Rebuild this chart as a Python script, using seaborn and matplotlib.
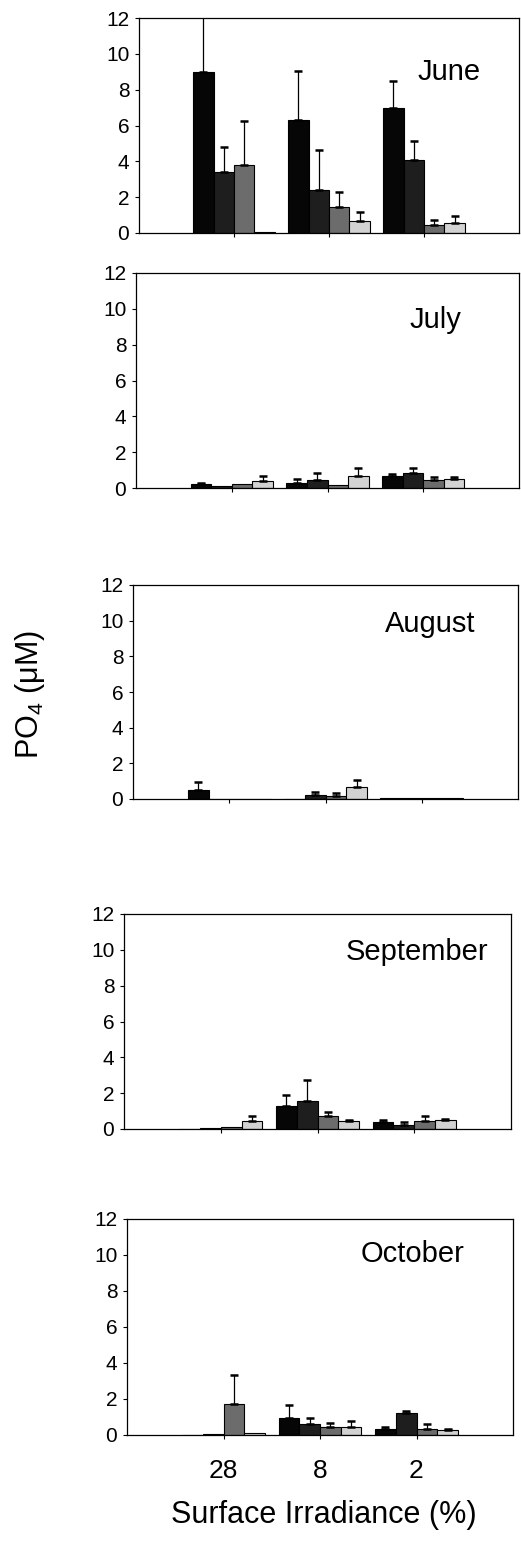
import numpy as np
import pandas as pd
import matplotlib
matplotlib.use("Agg")
import matplotlib.pyplot as plt
import seaborn as sns

# ---------------- data ----------------
irradiance = ["28", "8", "2"]
series = ["S1", "S2", "S3", "S4"]
months = ["June", "July", "August", "September", "October"]

# values per series (black, dark, gray, light), each over irradiance 28, 8, 2
june_vals = [[9.0, 6.3, 7.0], [3.4, 2.4, 4.05], [3.8, 1.47, 0.47], [0.05, 0.67, 0.54]]
june_err = [[4.5, 2.72, 1.48], [1.42, 2.23, 1.07], [2.47, 0.8, 0.26], [0.0, 0.5, 0.4]]

july_vals = [[0.2, 0.3, 0.69], [0.09, 0.46, 0.85], [0.24, 0.19, 0.46], [0.41, 0.67, 0.48]]
july_err = [[0.06, 0.18, 0.1], [0.0, 0.37, 0.25], [0.0, 0.0, 0.14], [0.24, 0.46, 0.15]]

august_vals = [[0.48, 0.02, 0.06], [0.02, 0.2, 0.07], [0.02, 0.18, 0.07], [0.02, 0.7, 0.05]]
august_err = [[0.45, 0.0, 0.0], [0.0, 0.19, 0.0], [0.0, 0.13, 0.0], [0.0, 0.34, 0.0]]

september_vals = [[0.0, 1.28, 0.37], [0.03, 1.58, 0.24], [0.1, 0.72, 0.43], [0.46, 0.43, 0.5]]
september_err = [[0.0, 0.64, 0.15], [0.0, 1.14, 0.13], [0.0, 0.22, 0.31], [0.24, 0.09, 0.06]]

october_vals = [[0.0, 0.96, 0.35], [0.03, 0.63, 1.24], [1.7, 0.44, 0.31], [0.13, 0.44, 0.3]]
october_err = [[0.0, 0.71, 0.08], [0.0, 0.3, 0.07], [1.61, 0.25, 0.29], [0.0, 0.34, 0.03]]

yticks = [0, 2, 4, 6, 8, 10, 12]

month_data = [
    (june_vals, june_err),
    (july_vals, july_err),
    (august_vals, august_err),
    (september_vals, september_err),
    (october_vals, october_err),
]

# ---------------- style ----------------
sns.set_style("ticks")
plt.rcParams["font.family"] = ["Liberation Sans", "DejaVu Sans"]
plt.rcParams["mathtext.default"] = "regular"
for key in ["text.color", "axes.labelcolor", "xtick.color", "ytick.color", "axes.edgecolor"]:
    plt.rcParams[key] = "black"

colors = ["#060606", "#1e1e1e", "#6c6c6c", "#d2d2d2"]
palette = dict(zip(series, colors))

W, H = 521, 1551
fig = plt.figure(figsize=(W / 100, H / 100), dpi=100)

# axes boxes in pixels: left, right, top, bottom
boxes = [
    (139, 519, 18, 233),
    (136, 519, 273, 488),
    (133, 518, 585, 799),
    (124, 511, 914, 1129),
    (127, 513, 1219, 1435),
]
label_pos = [(2.26, 9.0), (2.13, 9.4), (2.09, 9.8), (2.03, 9.9), (1.96, 10.05)]

for k, (month, (vals, errs)) in enumerate(zip(months, month_data)):
    L, R, T, B = boxes[k]
    ax = fig.add_axes([L / W, 1 - B / H, (R - L) / W, (B - T) / H])
    rows = []
    for s, v in zip(series, vals):
        for irr, val in zip(irradiance, v):
            rows.append({"irr": irr, "series": s, "value": val})
    df = pd.DataFrame(rows)
    sns.barplot(data=df, x="irr", y="value", hue="series", order=irradiance,
                hue_order=series, palette=palette, errorbar=None, width=0.86,
                edgecolor="black", linewidth=0.8, saturation=1, ax=ax, legend=False)
    # upper-only error bars located at the bar centres
    for cont, e in zip(ax.containers, errs):
        for bar, ev in zip(cont, e):
            if ev <= 0:
                continue
            xc = bar.get_x() + bar.get_width() / 2
            ax.errorbar(xc, bar.get_height(), yerr=[[0], [ev]], fmt="none",
                        ecolor="black", elinewidth=0.9, capsize=3, capthick=1.8,
                        clip_on=True)
    ax.set_xlim(-1, 3)
    ax.set_ylim(0, 12)
    ax.set_yticks(yticks)
    ax.set_yticklabels([str(t) for t in yticks])
    ax.tick_params(axis="y", labelsize=15, length=3, width=0.8, pad=4,
                   color="black", labelcolor="black")
    ax.tick_params(axis="x", length=3, width=0.8, color="black", labelcolor="black")
    if k == len(months) - 1:
        ax.set_xticklabels(irradiance, fontsize=19)
        ax.tick_params(axis="x", pad=14)
    else:
        ax.set_xticklabels([])
    ax.set_xlabel("")
    ax.set_ylabel("")
    for sp in ax.spines.values():
        sp.set_visible(True)
        sp.set_color("black")
        sp.set_linewidth(0.9)
    tx, ty = label_pos[k]
    ax.text(tx, ty, month, fontsize=21, ha="center", va="center", color="black")

fig.text(30 / W, 1 - 694 / H, "PO$_4$ (μM)", rotation=90, fontsize=22,
         ha="center", va="center", color="black")
fig.text(324 / W, 1 - 1515 / H, "Surface Irradiance (%)", fontsize=22,
         ha="center", va="center", color="black")

fig.savefig("out.png", dpi=100, facecolor="white")
